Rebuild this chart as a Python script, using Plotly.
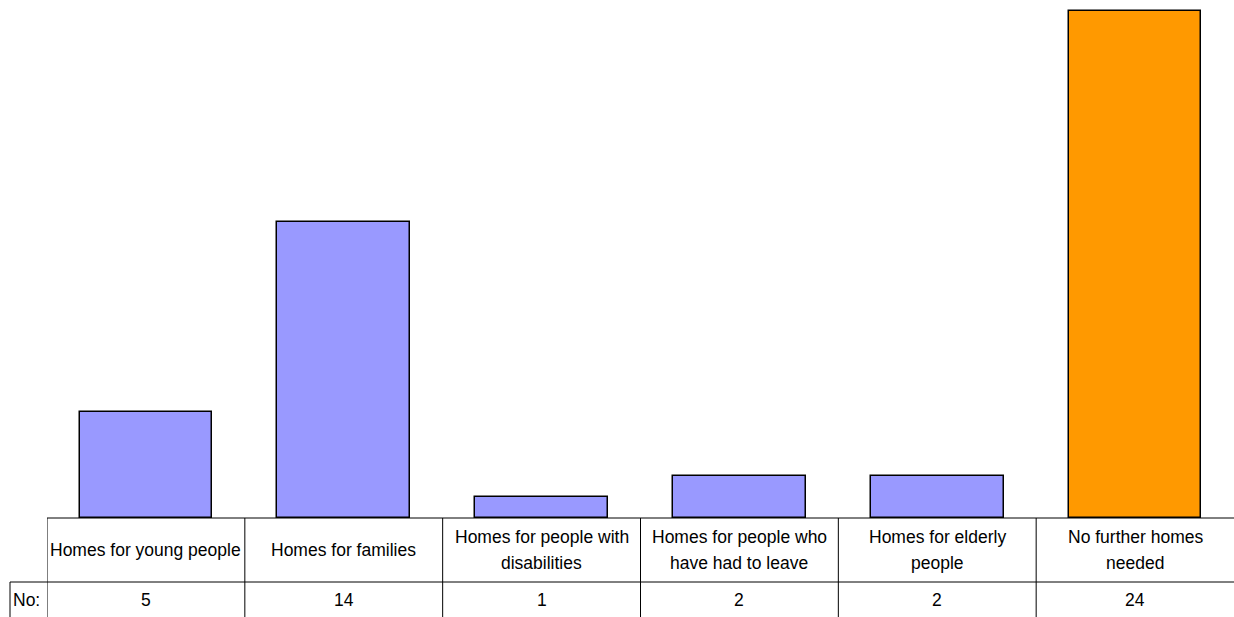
import plotly.graph_objects as go

categories = [
    ["Homes for young people"],
    ["Homes for families"],
    ["Homes for people with", "disabilities"],
    ["Homes for people who", "have had to leave"],
    ["Homes for elderly", "people"],
    ["No further homes", "needed"],
]
values = [5, 14, 1, 2, 2, 24]
colors = ["#9999FF", "#9999FF", "#9999FF", "#9999FF", "#9999FF", "#FF9900"]
row_label = "No:"

W, H = 1234, 617
ml, mr, mt, mb = 47, 0, 0, 99
plot_h = H - mt - mb
px_per_unit = 21.125
ymax = plot_h / px_per_unit

def py(pixel_y):
    # convert absolute pixel y to paper coordinate
    return (H - mb - pixel_y) / plot_h

FONT = dict(family="Liberation Sans, Arial, sans-serif", size=17.5, color="#000000")

x = list(range(len(values)))
fig = go.Figure()
fig.add_trace(go.Bar(
    x=x, y=values, width=0.67,
    marker=dict(color=colors, line=dict(color="#000000", width=1.5)),
    showlegend=False, hoverinfo="skip",
))

shapes = []
line = dict(color="#000000", width=1)
shapes.append(dict(type="line", xref="paper", yref="paper", x0=0, x1=1, y0=0, y1=0, line=line))
x_no = (10 - ml) / (W - ml - mr)
shapes.append(dict(type="line", xref="paper", yref="paper", x0=x_no, x1=1, y0=py(582), y1=py(582), line=line))
shapes.append(dict(type="line", xref="paper", yref="paper", x0=x_no, x1=x_no, y0=py(582), y1=py(640), line=line))
for i in range(len(values)):
    xb = i - 0.5
    shapes.append(dict(type="line", xref="x", yref="paper", x0=xb, x1=xb, y0=0, y1=py(640), line=line))

annotations = []
for i, lab in enumerate(categories):
    if len(lab) == 1:
        ys = [py(550)]
    else:
        ys = [py(537), py(563)]
    for txt, yy in zip(lab, ys):
        annotations.append(dict(x=i, y=yy, xref="x", yref="paper", text=txt, showarrow=False,
                                font=FONT, xanchor="center", yanchor="middle"))
    annotations.append(dict(x=i, y=py(600), xref="x", yref="paper", text=str(values[i]), showarrow=False,
                            font=FONT, xanchor="center", yanchor="middle"))
annotations.append(dict(x=(11 - ml) / (W - ml - mr), y=py(600), xref="paper", yref="paper", text=row_label,
                        showarrow=False, font=FONT, xanchor="left", yanchor="middle"))

fig.update_layout(
    width=W, height=H,
    margin=dict(l=ml, r=mr, t=mt, b=mb, pad=0),
    paper_bgcolor="white", plot_bgcolor="white",
    xaxis=dict(range=[-0.5, len(values) - 0.5], showticklabels=False, showgrid=False, zeroline=False,
               ticks="", showline=False),
    yaxis=dict(range=[0, ymax], showticklabels=False, showgrid=False, zeroline=False, ticks="", showline=False),
    shapes=shapes, annotations=annotations,
    bargap=0,
)
fig.write_html("out.html")
